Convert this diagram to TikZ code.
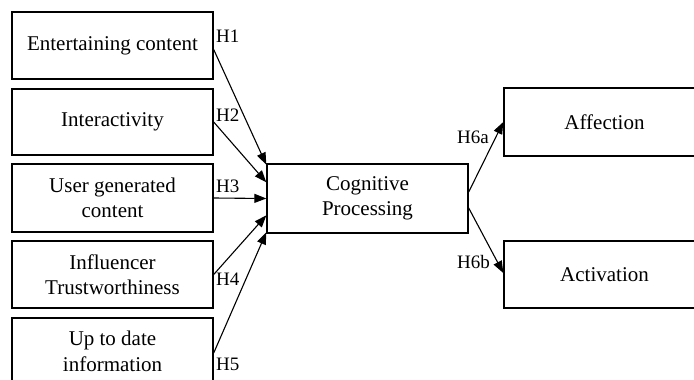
\documentclass[tikz,border=0pt]{standalone}
\usepackage{fontspec}
\setmainfont{Liberation Serif}
\usetikzlibrary{arrows.meta,calc}
\begin{document}
\begin{tikzpicture}[x=1pt,y=1pt,
  box/.style={draw,line width=1.4pt,minimum width=201pt,inner sep=2pt,align=center,
    font=\fontsize{21}{25.5}\selectfont},
  lab/.style={font=\fontsize{19}{22}\selectfont,inner sep=0pt},
  arr/.style={line width=1.1pt,-{Triangle[length=12pt,width=9pt]}}]
\useasboundingbox (0,0) rectangle (694,-380);
\clip (0,0) rectangle (694,-380);
\node[box,minimum height=67pt] (b1) at (112.5,-45.5) {Entertaining content};
\node[box,minimum height=66pt] (b2) at (112.5,-122) {Interactivity};
\node[box,minimum height=68pt] (b3) at (112.5,-198) {User generated\\content};
\node[box,minimum height=67pt] (b4) at (112.5,-274.5) {Influencer\\Trustworthiness};
\node[box,minimum height=67pt] (b5) at (112.5,-351.5) {Up to date\\information};
\node[box,minimum height=69pt] (c) at (367.5,-198.5) {Cognitive\\Processing};
\node[box,minimum height=68pt] (aff) at (604.5,-122) {Affection};
\node[box,minimum height=67pt] (act) at (604.5,-274.5) {Activation};
\coordinate (t1) at ($(c.north west)!0.02!(c.south west)$);
\coordinate (t2) at ($(c.north west)!0.27!(c.south west)$);
\coordinate (t3) at ($(c.north west)!0.5!(c.south west)$);
\coordinate (t4) at ($(c.north west)!0.74!(c.south west)$);
\coordinate (t5) at ($(c.north west)!0.98!(c.south west)$);
\draw[arr] ([yshift=-4pt]b1.east) -- (t1);
\draw[arr] (b2.east) -- (t2);
\draw[arr] (b3.east) -- (t3);
\draw[arr] (b4.east) -- (t4);
\draw[arr] ([yshift=-1.5pt]b5.east) -- (t5);
\draw[arr] ([yshift=6.5pt]c.east) -- (aff.west);
\draw[arr] ([yshift=-9.5pt]c.east) -- ([yshift=1.5pt]act.west);
\node[lab,anchor=west] (h1) at (216,-36) {H1};
\node[lab,anchor=west] (h2) at (216,-115) {H2};
\node[lab,anchor=west] (h3) at (216,-186) {H3};
\node[lab,anchor=west] (h4) at (216,-279) {H4};
\node[lab,anchor=west] (h5) at (216,-364) {H5};
\node[lab,anchor=west] (h6a) at (457,-137) {H6a};
\node[lab,anchor=west] (h6b) at (457,-262) {H6b};
\end{tikzpicture}
\end{document}
